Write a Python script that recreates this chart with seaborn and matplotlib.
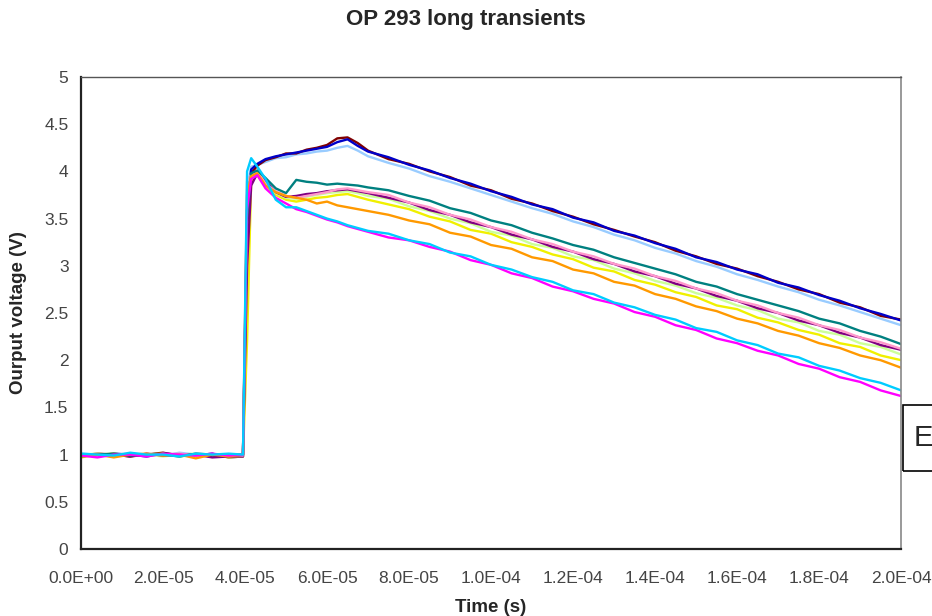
"""
plot.py

OP 293 long transients: output voltage vs. time for several runs,
Excel-style line chart redrawn with seaborn.
"""

import pandas as pd
import matplotlib
matplotlib.use("Agg")
import matplotlib.pyplot as plt
from matplotlib.patches import Rectangle
from matplotlib.ticker import FuncFormatter, MultipleLocator
import seaborn as sns

# time axis in microseconds (converted to seconds below)
TIME_US = [0, 4, 8, 12, 16, 20, 24, 28, 32, 36, 39.5, 40.5, 41.5, 43, 45,
           47.5, 50, 52.5, 55, 57.5, 60, 62.5, 65, 67.5, 70,
           75, 80, 85, 90, 95, 100, 105, 110, 115, 120, 125, 130, 135, 140,
           145, 150, 155, 160, 165, 170, 175, 180, 185, 190, 195, 200]

NAVY = [1.00, 0.99, 1.01, 1.00, 0.98, 1.01, 1.00, 0.99, 1.01, 0.97, 0.98,
        3.60, 4.02, 4.08, 4.13, 4.16, 4.18, 4.20, 4.22, 4.24, 4.26, 4.31, 4.34, 4.27, 4.21,
        4.15, 4.07, 4.01, 3.93, 3.87, 3.79, 3.73, 3.65, 3.60, 3.51, 3.46, 3.37, 3.32,
        3.24, 3.18, 3.09, 3.04, 2.96, 2.91, 2.82, 2.77, 2.69, 2.63, 2.55, 2.49, 2.42]
MAROON = [0.99, 1.01, 1.00, 0.98, 1.00, 1.02, 0.99, 1.00, 0.98, 1.00, 1.00,
          3.40, 3.98, 4.06, 4.12, 4.15, 4.19, 4.19, 4.23, 4.25, 4.28, 4.35, 4.36, 4.30, 4.22,
          4.13, 4.08, 4.00, 3.94, 3.85, 3.80, 3.71, 3.66, 3.58, 3.52, 3.44, 3.38, 3.31,
          3.25, 3.16, 3.10, 3.02, 2.97, 2.89, 2.83, 2.75, 2.70, 2.61, 2.56, 2.47, 2.43]
PALE_BLUE = [1.01, 1.00, 0.98, 1.01, 1.00, 0.99, 1.02, 1.00, 0.99, 1.00, 0.99,
             3.80, 4.05, 4.07, 4.10, 4.14, 4.15, 4.18, 4.19, 4.21, 4.22, 4.25, 4.27, 4.22, 4.16,
             4.09, 4.03, 3.95, 3.89, 3.82, 3.75, 3.68, 3.61, 3.55, 3.47, 3.41, 3.33, 3.27,
             3.19, 3.13, 3.05, 2.99, 2.91, 2.85, 2.78, 2.72, 2.64, 2.58, 2.51, 2.44, 2.37]
TEAL = [0.98, 1.00, 1.01, 0.99, 1.00, 1.00, 0.98, 1.01, 1.00, 0.99, 1.00,
        3.50, 3.98, 4.01, 3.93, 3.82, 3.77, 3.91, 3.89, 3.88, 3.86, 3.87, 3.86, 3.85, 3.83,
        3.80, 3.74, 3.69, 3.61, 3.56, 3.48, 3.43, 3.35, 3.29, 3.22, 3.17, 3.09, 3.03,
        2.97, 2.91, 2.83, 2.78, 2.70, 2.64, 2.58, 2.52, 2.44, 2.39, 2.31, 2.25, 2.17]
ROSE = [1.00, 0.98, 1.00, 1.01, 0.99, 1.00, 1.01, 0.99, 1.00, 1.00, 0.99,
        3.90, 3.97, 4.00, 3.87, 3.79, 3.74, 3.72, 3.74, 3.76, 3.78, 3.81, 3.82, 3.80, 3.78,
        3.75, 3.67, 3.62, 3.54, 3.49, 3.41, 3.36, 3.28, 3.23, 3.15, 3.10, 3.02, 2.97,
        2.89, 2.84, 2.76, 2.71, 2.63, 2.58, 2.50, 2.45, 2.37, 2.32, 2.24, 2.19, 2.12]
VIOLET = [0.99, 1.00, 1.00, 0.98, 1.01, 0.99, 1.00, 1.00, 0.97, 0.98, 0.98,
          3.00, 3.85, 3.98, 3.90, 3.78, 3.73, 3.74, 3.76, 3.77, 3.79, 3.80, 3.81, 3.79, 3.77,
          3.72, 3.67, 3.59, 3.54, 3.46, 3.41, 3.33, 3.28, 3.20, 3.15, 3.07, 3.02, 2.94,
          2.89, 2.81, 2.76, 2.68, 2.63, 2.55, 2.50, 2.42, 2.37, 2.29, 2.24, 2.16, 2.11]
LIGHT_GREEN = [1.00, 1.01, 0.99, 1.00, 1.00, 0.98, 1.00, 1.01, 0.99, 1.00, 1.00,
               3.70, 3.95, 3.97, 3.85, 3.77, 3.72, 3.71, 3.73, 3.75, 3.77, 3.78, 3.79, 3.77, 3.74,
               3.71, 3.63, 3.58, 3.50, 3.45, 3.36, 3.32, 3.23, 3.19, 3.10, 3.06, 2.97, 2.92,
               2.84, 2.79, 2.71, 2.66, 2.58, 2.53, 2.44, 2.40, 2.31, 2.27, 2.18, 2.14, 2.06]
YELLOW = [0.97, 1.00, 1.01, 0.99, 1.00, 1.01, 0.98, 1.00, 1.00, 0.97, 0.98,
          2.20, 3.90, 3.96, 3.84, 3.75, 3.70, 3.68, 3.70, 3.72, 3.73, 3.75, 3.76, 3.73, 3.70,
          3.65, 3.60, 3.52, 3.47, 3.38, 3.34, 3.25, 3.20, 3.12, 3.07, 2.98, 2.94, 2.85,
          2.80, 2.72, 2.67, 2.58, 2.54, 2.45, 2.40, 2.32, 2.27, 2.18, 2.14, 2.05, 2.00]
ORANGE = [0.98, 1.00, 0.97, 1.00, 1.01, 0.99, 1.00, 0.96, 1.00, 0.98, 1.00,
          3.75, 3.95, 3.98, 3.85, 3.78, 3.74, 3.72, 3.70, 3.66, 3.68, 3.64, 3.62, 3.60, 3.58,
          3.54, 3.48, 3.44, 3.35, 3.31, 3.22, 3.18, 3.09, 3.05, 2.96, 2.92, 2.83, 2.79,
          2.70, 2.65, 2.57, 2.52, 2.44, 2.39, 2.31, 2.26, 2.18, 2.13, 2.05, 2.00, 1.92]
MAGENTA = [0.99, 0.97, 1.00, 1.00, 0.98, 1.01, 1.00, 0.99, 1.01, 0.99, 1.00,
           3.60, 3.92, 3.96, 3.82, 3.72, 3.66, 3.60, 3.57, 3.53, 3.49, 3.46, 3.42, 3.39, 3.36,
           3.30, 3.27, 3.20, 3.15, 3.06, 3.01, 2.92, 2.87, 2.78, 2.73, 2.65, 2.60, 2.51,
           2.46, 2.37, 2.32, 2.23, 2.18, 2.10, 2.05, 1.96, 1.91, 1.82, 1.77, 1.68, 1.62]
SKY_BLUE = [1.01, 1.00, 0.99, 1.02, 1.00, 1.00, 0.98, 1.01, 1.00, 1.01, 1.00,
            4.00, 4.14, 4.05, 3.92, 3.70, 3.62, 3.62, 3.58, 3.54, 3.50, 3.47, 3.43, 3.40, 3.37,
            3.34, 3.27, 3.23, 3.14, 3.10, 3.01, 2.96, 2.88, 2.83, 2.74, 2.70, 2.61, 2.56,
            2.48, 2.43, 2.34, 2.30, 2.21, 2.16, 2.07, 2.03, 1.94, 1.89, 1.81, 1.76, 1.68]

SERIES = {
    "pale_blue": (PALE_BLUE, "#99CCFF"),
    "maroon": (MAROON, "#800000"),
    "navy": (NAVY, "#0000C8"),
    "yellow": (YELLOW, "#F0F000"),
    "light_green": (LIGHT_GREEN, "#CCFF99"),
    "violet": (VIOLET, "#800080"),
    "rose": (ROSE, "#FF99CC"),
    "teal": (TEAL, "#008080"),
    "orange": (ORANGE, "#FF9900"),
    "magenta": (MAGENTA, "#FF00FF"),
    "sky_blue": (SKY_BLUE, "#00CCFF"),
}

X_TICKS = [0, 2e-5, 4e-5, 6e-5, 8e-5, 1e-4, 1.2e-4, 1.4e-4, 1.6e-4, 1.8e-4, 2e-4]


def build_frame() -> pd.DataFrame:
    rows = []
    for name, (values, _) in SERIES.items():
        for t, v in zip(TIME_US, values):
            rows.append({"run": name, "time": t * 1e-6, "voltage": v})
    return pd.DataFrame(rows)


def main():
    sns.set_theme(style="white")
    plt.rcParams["font.family"] = ["Liberation Sans", "DejaVu Sans"]

    df = build_frame()
    fig = plt.figure(figsize=(9.32, 6.16), dpi=100)
    ax = fig.add_axes([0.0869, 0.1088, 0.880, 0.7662])

    sns.lineplot(
        data=df, x="time", y="voltage", hue="run",
        hue_order=list(SERIES.keys()),
        palette={k: c for k, (_, c) in SERIES.items()},
        linewidth=1.7, legend=False, ax=ax, estimator=None, sort=False,
    )

    ax.set_xlim(0, 2e-4)
    ax.set_ylim(0, 5)
    ax.set_xticks(X_TICKS)
    ax.xaxis.set_major_formatter(FuncFormatter(lambda v, _: f"{v:.1E}"))
    ax.yaxis.set_major_locator(MultipleLocator(0.5))
    ax.yaxis.set_major_formatter(FuncFormatter(lambda v, _: f"{v:g}"))
    ax.tick_params(axis="both", direction="out", length=4, width=1.2,
                   labelsize=12.5, labelcolor="#444444", color="#333333", pad=5)
    ax.tick_params(axis="x", pad=12)

    for side in ("left", "bottom"):
        ax.spines[side].set_color("#222222")
        ax.spines[side].set_linewidth(1.6)
    ax.spines["top"].set_color("#555555")
    ax.spines["top"].set_linewidth(1.0)
    ax.spines["right"].set_color("#888888")
    ax.spines["right"].set_linewidth(1.2)

    ax.set_xlabel("Time (s)", fontsize=13.5, fontweight="bold", labelpad=9)
    ax.set_ylabel("Ourput voltage (V)", fontsize=13.5, fontweight="bold", labelpad=12)
    fig.text(0.5, 0.968, "OP 293 long transients", ha="center", va="center",
             fontsize=16, fontweight="bold")

    # legend box cut off at the right edge of the picture
    fig.patches.append(Rectangle((903 / 932, (616 - 471) / 616), 0.1, 66 / 616,
                                 transform=fig.transFigure, fill=False,
                                 edgecolor="black", linewidth=1.2))
    fig.text(914 / 932, (616 - 438) / 616, "E", fontsize=21, va="center", ha="left")

    fig.savefig("out.png", dpi=100)
    plt.close(fig)


if __name__ == "__main__":
    main()
